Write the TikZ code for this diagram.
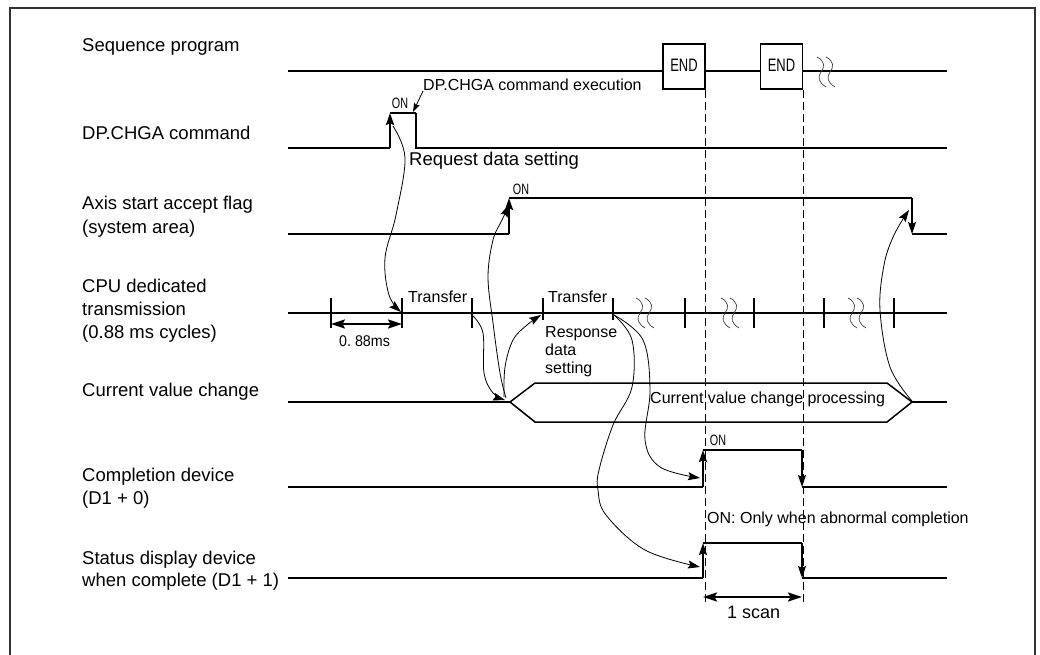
\documentclass[tikz,border=0pt]{standalone}
\usepackage{fontspec}
\setmainfont{Liberation Sans}
\newfontfamily\condfont[FakeStretch=0.72]{Liberation Sans}
\newfontfamily\semifont[FakeStretch=0.92]{Liberation Sans}
\usetikzlibrary{arrows.meta}
\begin{document}
\begin{tikzpicture}[x=1pt,y=-1pt,
  thn/.style={line width=1.1pt},
  mid/.style={line width=1.5pt},
  thk/.style={line width=2.6pt},
  hd/.tip={Stealth[length=12pt,width=8pt,inset=2pt]},
  shd/.tip={Stealth[length=9pt,width=6pt,inset=1.5pt]},
  dimhd/.tip={Stealth[length=14pt,width=9pt,inset=2.5pt]},
  crv/.style={line width=0.8pt,-hd},
  vdash/.style={line width=1pt, dash pattern=on 8pt off 4pt},
  wavy/.style={line width=0.7pt, black!75},
  lbl/.style={font=\fontsize{18.5}{22}\selectfont, anchor=base west, inner sep=0pt},
  ann/.style={font=\fontsize{16}{18}\selectfont, anchor=base west, inner sep=0pt},
  cond/.style={font=\condfont\fontsize{15}{15}\selectfont, inner sep=0pt},
  endbox/.style={draw, line width=1.2pt, minimum width=42pt, minimum height=45pt, inner sep=0pt, font=\condfont\fontsize{18}{18}\selectfont},
  brk/.pic={
    \draw[wavy] (0,0) .. controls (8,4) and (8,10) .. (4,15) .. controls (0,20) and (2,26) .. (9,30);
    \draw[wavy] (9,0) .. controls (17,4) and (17,10) .. (13,15) .. controls (9,20) and (11,26) .. (18,30);
  }
]
\useasboundingbox (0,0) rectangle (1040,655);
\draw[line width=2pt, black!80] (10,665) -- (10,8) -- (1035,8) -- (1035,665);

% left labels
\node[lbl] (L1) at (82,52) {Sequence program};
\node[lbl] (L2) at (82,140) {DP.CHGA command};
\node[lbl] (L3a) at (82,209) {Axis start accept flag};
\node[lbl] (L3b) at (82,233) {(system area)};
\node[lbl] (L4a) at (82,292) {CPU dedicated};
\node[lbl] (L4b) at (82,315) {transmission};
\node[lbl] (L4c) at (82,338) {(0.88 ms cycles)};
\node[lbl] (L5) at (82,396) {Current value change};
\node[lbl] (L6a) at (82,481) {Completion device};
\node[lbl] (L6b) at (82,504) {(D1 + 0)};
\node[lbl] (L7a) at (82,564) {Status display device};
\node[lbl] (L7b) at (82,586) {when complete (D1 + 1)};

% sequence program
\coordinate (s0) at (288,71);
\coordinate (s1) at (947,71);
\coordinate (dbot) at (0,605);
\node[endbox] (end1) at (684,66.5) {\raisebox{2pt}{END}};
\node[endbox] (end2) at (781.5,66.5) {\raisebox{2pt}{END}};
\draw[thn] (s0) -- (s0 -| end1.west) (s0 -| end1.east) -- (s0 -| end2.west) (s0 -| end2.east) -- (s1);
\pic at (817,57) {brk};
\draw[vdash] (end1.south east) -- (end1.south east |- dbot);
\draw[vdash] (end2.south east) -- (end2.south east |- dbot);

% DP.CHGA command
\coordinate (a0) at (288,148);
\coordinate (aR) at (390,148);
\coordinate (aRt) at (390,113);
\coordinate (aF) at (416,113);
\coordinate (aFb) at (416,148);
\coordinate (aFt) at (413,112);
\coordinate (a1) at (947,148);
\draw[thk] (a0) -- (aR);
\draw[thk,-hd] (aR) -- (aRt);
\draw[thn] (aRt) -- (aF);
\draw[mid] (aF) -- (aFb) -- (a1);
\node[cond] (on1) at (400,103) {ON};
\node[ann, anchor=west] (exec) at (423,85) {DP.CHGA command execution};
\draw[line width=0.8pt,-shd] (exec.south west) -- (aFt);
\node[lbl] (req) at (409,166) {Request data setting};

% axis start accept flag
\coordinate (b0) at (288,234);
\coordinate (bR) at (509,234);
\coordinate (bRt) at (509,198);
\coordinate (bF) at (912,198);
\coordinate (bFb) at (912,234);
\coordinate (b1) at (947,234);
\draw[thk] (b0) -- (bR);
\draw[thk,-hd] (bR) -- (bRt);
\draw[thn] (bRt) -- (bF);
\draw[thn,-hd] (bF) -- (bFb);
\draw[thn] (bFb) -- (b1);
\node[cond] (on2) at (521,189) {ON};

% CPU dedicated transmission
\draw[thk] (288,313) -- (402,313) (472,313) -- (543,313) (613,313) -- (947,313);
\draw[thn] (402,313) -- (472,313) (543,313) -- (613,313);
\foreach \x in {331,402,472,685,754,824,894} \draw[thk] (\x,298) -- (\x,328);
\foreach \x in {543,613} \draw[thk] (\x,298) -- (\x,320);
\pic at (636,298) {brk};
\pic at (721,298) {brk};
\pic at (848,298) {brk};
\coordinate (t1) at (331,324);
\coordinate (t2) at (402,324);
\draw[line width=2pt, dimhd-dimhd] (t1) -- (t2);
\node[inner sep=0pt, anchor=base west, font=\semifont\fontsize{15.5}{15.5}\selectfont] (ms) at (339,346) {0.~88ms};
\node[ann] (tr1) at (408,302) {Transfer};
\node[ann] (tr2) at (548,302) {Transfer};
\node[ann] (rs1) at (545,337) {Response};
\node[ann] (rs2) at (545,355) {data};
\node[ann] (rs3) at (545,373) {setting};

% current value change
\coordinate (h0) at (288,402);
\coordinate (hL) at (510,402);
\coordinate (hR) at (912,402);
\coordinate (h1) at (947,402);
\draw[thk] (h0) -- (hL);
\draw[mid] (hL) -- (535,383) -- (887,383) -- (hR) -- (887,422) -- (535,422) -- cycle;
\draw[thn] (hR) -- (h1);
\node[ann] (cvp) at (650,403) {Current value change processing};

% completion device
\coordinate (k0) at (288,487);
\coordinate (kR) at (703,487);
\coordinate (kRt) at (703,450);
\coordinate (kF) at (802,450);
\coordinate (kFb) at (802,487);
\coordinate (k1) at (947,487);
\draw[thn] (k0) -- (kR);
\draw[thk,-hd] (kR) -- (kRt);
\draw[thn] (kRt) -- (kF);
\draw[mid,-hd] (kF) -- (kFb);
\draw[thn] (kFb) -- (k1);
\node[cond] (on3) at (718,440) {ON};
\node[ann] (abn) at (707,523) {ON: Only when abnormal completion};

% status display device
\coordinate (m0) at (288,578);
\coordinate (mR) at (703,578);
\coordinate (mRt) at (703,543);
\coordinate (mF) at (802,543);
\coordinate (mFb) at (802,578);
\coordinate (m1) at (947,578);
\draw[thk] (m0) -- (mR);
\draw[thk,-hd] (mR) -- (mRt);
\draw[thn] (mRt) -- (mF);
\draw[mid,-hd] (mF) -- (mFb);
\draw[thn] (mFb) -- (m1);
\coordinate (u1) at (703,597);
\coordinate (u2) at (802,597);
\draw[line width=2pt, dimhd-dimhd] (u1) -- (u2);
\node[lbl, font=\fontsize{18}{18}\selectfont] (scan) at (727,618) {1 scan};

% curved connectors
\coordinate (p1s) at (393,126);
\coordinate (p1e) at (401,312);
\draw[crv] plot[smooth, tension=0.6] coordinates {(p1s) (405,158) (396,215) (385,258) (389,295) (p1e)};
\coordinate (p2s) at (506,398);
\coordinate (p2e) at (509,205);
\draw[crv] plot[smooth, tension=0.6] coordinates {(p2s) (500,373) (493,323) (488,277) (493,240) (502,220) (p2e)};
\coordinate (p3s) at (473,316);
\coordinate (p3e) at (505,400);
\draw[crv] plot[smooth, tension=0.6] coordinates {(p3s) (483,333) (484,373) (493,393) (p3e)};
\coordinate (p4s) at (504,397);
\coordinate (p4e) at (541,315);
\draw[crv] plot[smooth, tension=0.6] coordinates {(p4s) (505,367) (513,340) (527,325) (p4e)};
\coordinate (p5s) at (614,315);
\coordinate (p5e) at (700,478);
\draw[crv] plot[smooth, tension=0.6] coordinates {(p5s) (643,340) (650,390) (645,440) (660,467) (p5e)};
\coordinate (p6e) at (700,567);
\draw[crv] plot[smooth, tension=0.6] coordinates {(p5s) (632,340) (632,387) (613,425) (599,470) (598,490) (606,515) (645,550) (p6e)};
\coordinate (p7s) at (912,401);
\coordinate (p7e) at (909,210);
\draw[crv] plot[smooth, tension=0.6] coordinates {(p7s) (890,367) (880,310) (884,265) (894,235) (p7e)};
\end{tikzpicture}
\end{document}
